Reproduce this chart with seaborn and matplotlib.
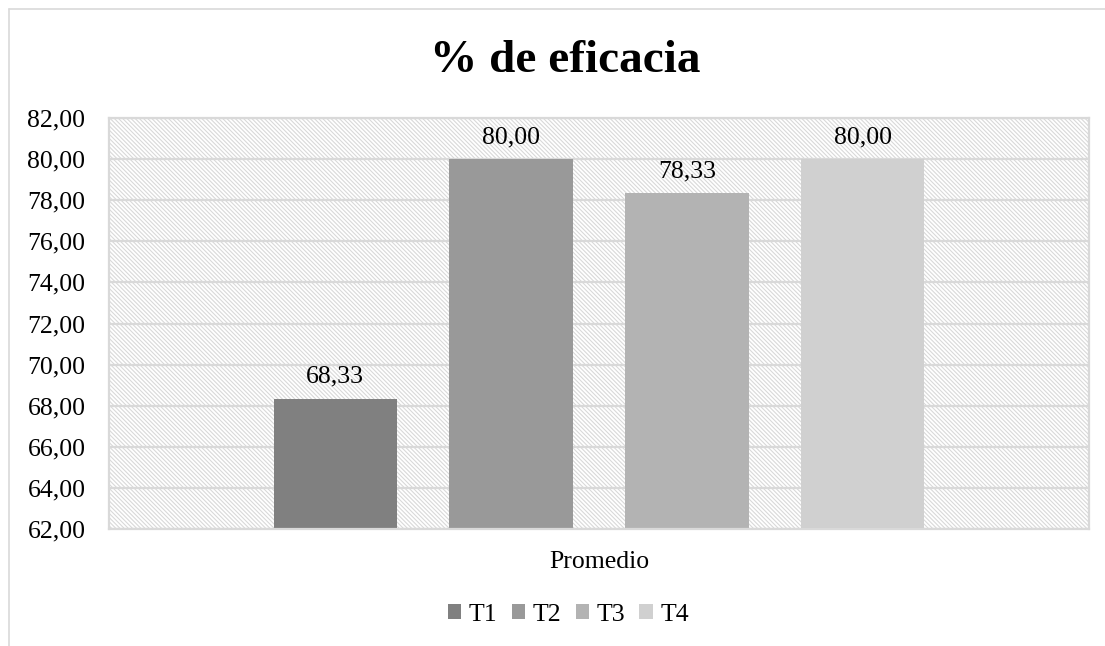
import matplotlib
matplotlib.use("Agg")
import matplotlib.pyplot as plt
import matplotlib.patches as mpatches
from matplotlib.lines import Line2D
from matplotlib.ticker import FuncFormatter, MultipleLocator
import seaborn as sns
import pandas as pd

# ---- data ----
categoria = ["Promedio"]
tratamientos = ["T1", "T2", "T3", "T4"]
valores = [68.33, 80.00, 78.33, 80.00]
colores = ["#808080", "#999999", "#b3b3b3", "#d0d0d0"]
titulo = "% de eficacia"

df = pd.DataFrame({
    "categoria": categoria * len(tratamientos),
    "tratamiento": tratamientos,
    "valor": valores,
})

sns.set_theme(style="white")
plt.rcParams["font.family"] = ["Liberation Serif", "DejaVu Serif"]
plt.rcParams["hatch.linewidth"] = 0.8
plt.rcParams["text.color"] = "black"

GRID = "#d9d9d9"
FS = 18.5

fig = plt.figure(figsize=(11.05, 6.46), dpi=100)
ax = fig.add_axes([109 / 1105, 1 - 529 / 646, 980 / 1105, 411 / 646])

# hatched plot-area background
bg = mpatches.Rectangle((0, 0), 1, 1, transform=ax.transAxes, facecolor="white",
                        edgecolor="#d9d9d9", linewidth=0, hatch="\\" * 8, zorder=0)
ax.add_patch(bg)

sns.barplot(data=df, x="categoria", y="valor", hue="tratamiento",
            palette=colores, saturation=1, width=0.718, gap=0.3,
            ax=ax, zorder=2, linewidth=0)

ax.set_ylim(62, 82)
ax.set_xlim(-0.5, 0.5)
ax.yaxis.set_major_locator(MultipleLocator(2))
ax.yaxis.set_major_formatter(FuncFormatter(lambda v, p: f"{v:.2f}".replace(".", ",")))
ax.set_axisbelow(True)
ax.grid(axis="y", color=GRID, linewidth=1.6, zorder=1)
ax.grid(axis="x", visible=False)
ax.set_xlabel("")
ax.set_ylabel("")
ax.tick_params(axis="y", length=0, pad=17, labelsize=FS, labelcolor="black")
ax.tick_params(axis="x", length=0, pad=16, labelsize=FS, labelcolor="black")
for s in ax.spines.values():
    s.set_color(GRID)
    s.set_linewidth(1.6)
    s.set_visible(True)

for cont, v in zip(ax.containers, valores):
    ax.bar_label(cont, labels=[f"{v:.2f}".replace(".", ",")], padding=8,
                 fontsize=FS, color="black")

if ax.get_legend() is not None:
    ax.get_legend().remove()
handles = [mpatches.Patch(facecolor=c, edgecolor="none") for c in colores]
fig.legend(handles, tratamientos, loc="center", ncol=4, frameon=False,
           bbox_to_anchor=(568.5 / 1105, 1 - 615 / 646), fontsize=FS,
           handlelength=0.52, handleheight=0.52, handletextpad=0.3,
           columnspacing=0.55, borderaxespad=0, labelcolor="black")

fig.text(565 / 1105, 1 - 61 / 646, titulo, ha="center", va="center",
         fontsize=34, fontweight="bold", color="black")

# chart-area border (left and top visible)
fig.add_artist(Line2D([8.5 / 1105, 8.5 / 1105], [0, 1 - 9 / 646],
                      transform=fig.transFigure, color=GRID, linewidth=1.2))
fig.add_artist(Line2D([8.5 / 1105, 1], [1 - 9 / 646, 1 - 9 / 646],
                      transform=fig.transFigure, color=GRID, linewidth=1.2))

fig.savefig("out.png", dpi=100)
